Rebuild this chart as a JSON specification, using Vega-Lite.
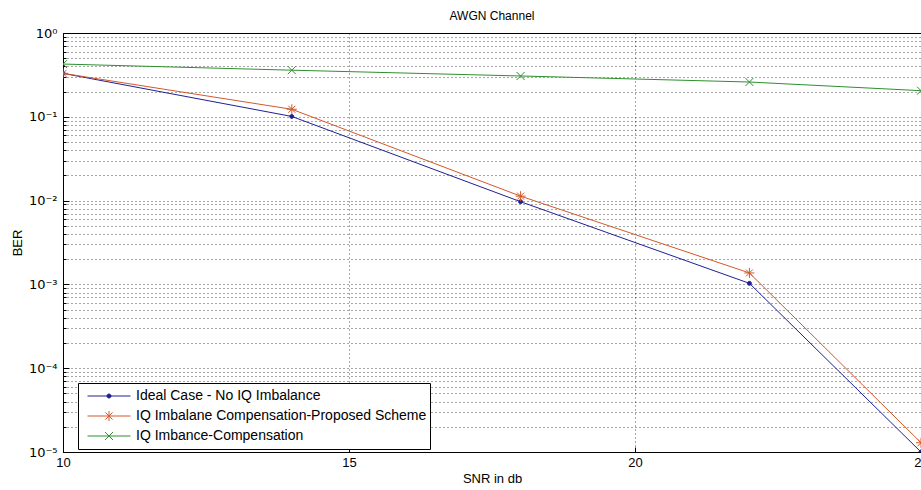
{
  "$schema": "https://vega.github.io/schema/vega-lite/v6.json",
  "width": 858,
  "height": 419,
  "autosize": {"type": "none"},
  "padding": {"left": 63, "top": 33, "right": 0, "bottom": 38},
  "background": "white",
  "title": {"text": "AWGN Channel", "fontSize": 12, "fontWeight": "normal", "font": "Liberation Sans", "offset": 4, "color": "black"},
  "config": {"view": {"stroke": "black", "strokeWidth": 1}, "font": "Liberation Sans"},
  "data": {
    "values": [
      {"snr": 10, "ber": 0.33, "series": "Ideal Case - No IQ Imbalance"},
      {"snr": 14, "ber": 0.101, "series": "Ideal Case - No IQ Imbalance"},
      {"snr": 18, "ber": 0.0097, "series": "Ideal Case - No IQ Imbalance"},
      {"snr": 22, "ber": 0.00103, "series": "Ideal Case - No IQ Imbalance"},
      {"snr": 25, "ber": 0.00001, "series": "Ideal Case - No IQ Imbalance"},
      {"snr": 10, "ber": 0.33, "series": "IQ Imbalane Compensation-Proposed Scheme"},
      {"snr": 14, "ber": 0.123, "series": "IQ Imbalane Compensation-Proposed Scheme"},
      {"snr": 18, "ber": 0.0113, "series": "IQ Imbalane Compensation-Proposed Scheme"},
      {"snr": 22, "ber": 0.00137, "series": "IQ Imbalane Compensation-Proposed Scheme"},
      {"snr": 25, "ber": 0.0000129, "series": "IQ Imbalane Compensation-Proposed Scheme"},
      {"snr": 10, "ber": 0.426, "series": "IQ Imbance-Compensation"},
      {"snr": 14, "ber": 0.36, "series": "IQ Imbance-Compensation"},
      {"snr": 18, "ber": 0.307, "series": "IQ Imbance-Compensation"},
      {"snr": 22, "ber": 0.26, "series": "IQ Imbance-Compensation"},
      {"snr": 25, "ber": 0.205, "series": "IQ Imbance-Compensation"}
    ]
  },
  "encoding": {
    "x": {
      "field": "snr", "type": "quantitative",
      "scale": {"domain": [10, 25], "nice": false, "zero": false},
      "axis": {
        "title": "SNR in db", "values": [10, 15, 20, 25], "format": "d",
        "tickSize": -5, "tickColor": "black", "domainColor": "black", "labelPadding": 9,
        "grid": true, "gridDash": [1, 3], "gridColor": "black", "gridOpacity": 0.7,
        "labelFontSize": 13, "labelColor": "black", "labelFont": "Liberation Sans",
        "labelFlush": false, "labelOverlap": false, "labelBound": false,
        "titleFontSize": 13, "titleFontWeight": "normal", "titleColor": "black", "titleFont": "Liberation Sans", "titlePadding": 3
      }
    },
    "y": {
      "field": "ber", "type": "quantitative",
      "scale": {"type": "log", "domain": [0.00001, 1], "nice": false},
      "axis": {
        "title": "BER",
        "values": [0.00001, 0.00002, 0.00003, 0.00004, 0.00005, 0.00006, 0.00007, 0.00008, 0.00009,
                   0.0001, 0.0002, 0.0003, 0.0004, 0.0005, 0.0006, 0.0007, 0.0008, 0.0009,
                   0.001, 0.002, 0.003, 0.004, 0.005, 0.006, 0.007, 0.008, 0.009,
                   0.01, 0.02, 0.03, 0.04, 0.05, 0.06, 0.07, 0.08, 0.09,
                   0.1, 0.2, 0.3, 0.4, 0.5, 0.6, 0.7, 0.8, 0.9, 1],
        "labelExpr": "abs(log(datum.value)/LN10 - round(log(datum.value)/LN10)) < 0.001 ? '10' + ['⁰','⁻¹','⁻²','⁻³','⁻⁴','⁻⁵'][round(-log(datum.value)/LN10)] : ''",
        "tickSize": {"condition": {"test": "abs(log(datum.value)/LN10 - round(log(datum.value)/LN10)) < 0.001", "value": -6}, "value": -3},
        "labelPadding": 12,
        "tickColor": "black", "domainColor": "black",
        "grid": true, "gridDash": [1, 3], "gridColor": "black", "gridOpacity": 0.7,
        "labelFontSize": 13, "labelColor": "black", "labelFont": "DejaVu Sans",
        "labelFlush": false, "labelOverlap": false, "labelBound": false,
        "titleFontSize": 13, "titleFontWeight": "normal", "titleColor": "black", "titleFont": "Liberation Sans", "titlePadding": 4
      }
    }
  },
  "layer": [
    {
      "mark": {"type": "line", "strokeWidth": 1, "clip": true},
      "encoding": {
        "color": {
          "field": "series", "type": "nominal",
          "scale": {
            "domain": ["Ideal Case - No IQ Imbalance", "IQ Imbalane Compensation-Proposed Scheme", "IQ Imbance-Compensation"],
            "range": ["#1f1f96", "#d3582a", "#2e8f2e"]
          },
          "legend": {
            "orient": "none", "legendX": 15, "legendY": 350, "title": null,
            "strokeColor": "black", "fillColor": "white", "padding": 3, "symbolOffset": 6,
            "symbolSize": 1849, "symbolType": "stroke", "symbolStrokeWidth": 1, "clipHeight": 20,
            "labelFontSize": 14, "labelFont": "Liberation Sans", "labelColor": "black", "labelOffset": 5, "rowPadding": 0,
            "labelLimit": 500, "cornerRadius": 0,
            "encode": {
              "symbols": {
                "update": {
                  "shape": {"signal": "datum.value === 'Ideal Case - No IQ Imbalance' ? 'M-1,0H1M-0.093,0A0.093,0.093,0,1,0,0.093,0A0.093,0.093,0,1,0,-0.093,0' : datum.value === 'IQ Imbalane Compensation-Proposed Scheme' ? 'M-1,0H1M0,-0.233V0.233M-0.165,-0.165L0.165,0.165M-0.165,0.165L0.165,-0.165' : 'M-1,0H1M-0.186,-0.186L0.186,0.186M-0.186,0.186L0.186,-0.186'"},
                  "fill": {"signal": "datum.value === 'Ideal Case - No IQ Imbalance' ? '#1f1f96' : 'transparent'"}
                }
              }
            }
          }
        }
      }
    },
    {
      "transform": [{"filter": "datum.series === 'Ideal Case - No IQ Imbalance'"}],
      "mark": {"type": "point", "clip": true, "strokeWidth": 1, "opacity": 1, "size": 100, "filled": false,
               "stroke": "#1f1f96", "fill": "#1f1f96",
               "shape": "M-0.4,0A0.4,0.4,0,1,0,0.4,0A0.4,0.4,0,1,0,-0.4,0"}
    },
    {
      "transform": [{"filter": "datum.series === 'IQ Imbalane Compensation-Proposed Scheme'"}],
      "mark": {"type": "point", "clip": true, "strokeWidth": 1, "opacity": 1, "size": 100, "filled": false,
               "stroke": "#d3582a",
               "shape": "M-1,0H1M0,-1V1M-0.7,-0.7L0.7,0.7M-0.7,0.7L0.7,-0.7"}
    },
    {
      "transform": [{"filter": "datum.series === 'IQ Imbance-Compensation'"}],
      "mark": {"type": "point", "clip": true, "strokeWidth": 1, "opacity": 1, "size": 100, "filled": false,
               "stroke": "#2e8f2e",
               "shape": "M-0.8,-0.8L0.8,0.8M-0.8,0.8L0.8,-0.8"}
    }
  ]
}
